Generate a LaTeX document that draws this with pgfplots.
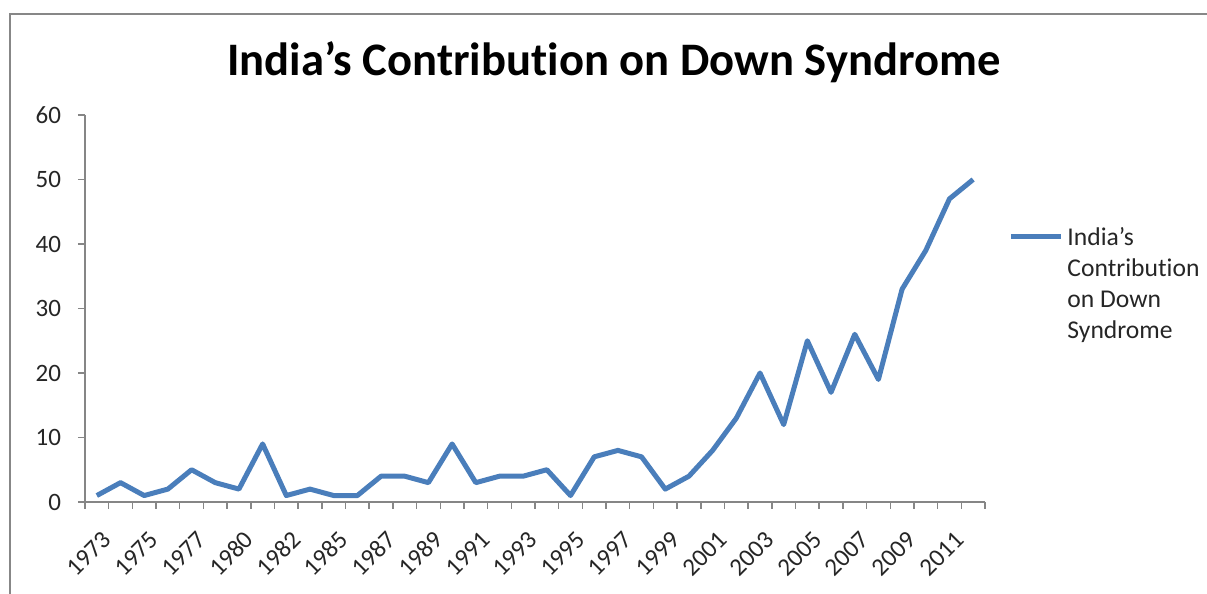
\documentclass[border=0pt]{standalone}
\usepackage{pgfplots}
\pgfplotsset{compat=1.18}
\usepackage{fontspec}
\setmainfont{Carlito}[Ligatures=NoCommon]
\definecolor{lineblue}{HTML}{4A7EBB}
\definecolor{axgray}{HTML}{868686}
\definecolor{framegray}{HTML}{878787}
\begin{document}
\begin{tikzpicture}
\useasboundingbox (0,0) rectangle (603.5pt,297pt);
\draw[framegray, line width=1.2pt] (5pt,0) -- (5pt,290pt) -- (603.5pt,290pt);
\node[font=\fontsize{23.3}{27}\selectfont\bfseries] at (307pt,266pt) {India’s Contribution on Down Syndrome};
\begin{axis}[
  at={(42.5pt,46pt)}, anchor=south west,
  width=450pt, height=193.5pt, scale only axis,
  xmin=-0.5, xmax=37.5, ymin=0, ymax=60,
  axis lines*=left,
  axis line style={axgray, line width=0.75pt, -},
  ytick={0,10,...,60},
  xtick={0,2,...,36},
  xticklabels={1973,1975,1977,1980,1982,1985,1987,1989,1991,1993,1995,1997,1999,2001,2003,2005,2007,2009,2011},
  minor xtick={-0.5,0.5,...,37.5},
  major x tick style={draw=none},
  tick style={axgray, line width=0.75pt},
  tick align=outside,
  major tick length=3.5pt, minor tick length=3.5pt,
  ticklabel style={font=\fontsize{12.5}{14}\selectfont, text=black!85},
  /pgf/number format/assume math mode=true,
  yticklabel style={xshift=-5pt},
  xticklabel style={xshift=7.5pt, rotate=45, anchor=east},
  xticklabel shift=11pt,
  legend style={at={(1.019,0.562)}, anchor=west, draw=none, fill=none,
    font=\fontsize{12.8}{15.5}\selectfont, nodes={align=left}, text=black!85},
  legend cell align=left,
  legend image code/.code={\path[draw=none] (0pt,-24pt) (0pt,24pt);
    \draw[#1] (0pt,24pt) -- (25pt,24pt);},
]
% x index: 0 = 1973 ... 37 = 2012
\addplot[lineblue, line width=2.5pt, line join=round] coordinates {
  (0,1) (1,3) (2,1) (3,2) (4,5) (5,3) (6,2) (7,9) (8,1) (9,2)
  (10,1) (11,1) (12,4) (13,4) (14,3) (15,9) (16,3) (17,4) (18,4) (19,5)
  (20,1) (21,7) (22,8) (23,7) (24,2) (25,4) (26,8) (27,13) (28,20) (29,12)
  (30,25) (31,17) (32,26) (33,19) (34,33) (35,39) (36,47) (37,50)
};
\legend{India’s\\Contribution\\on Down\\Syndrome}
\end{axis}
\end{tikzpicture}
\end{document}
